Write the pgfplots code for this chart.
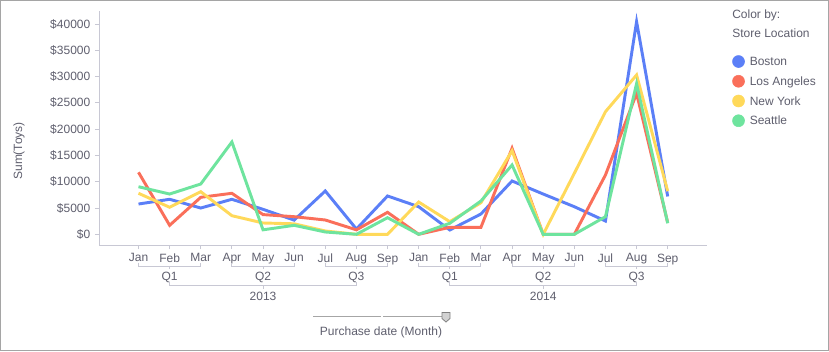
\documentclass[border=0pt]{standalone}
\usepackage{fontspec}
\setmainfont{Liberation Sans}
\usepackage{pgfplots}
\pgfplotsset{compat=1.18}
\definecolor{cBlue}{RGB}{91,127,247}
\definecolor{cRed}{RGB}{250,111,90}
\definecolor{cYel}{RGB}{255,217,90}
\definecolor{cGrn}{RGB}{110,228,158}
\definecolor{axisgray}{RGB}{200,200,212}
\definecolor{lbl}{RGB}{95,95,110}
\definecolor{framegray}{RGB}{165,165,165}
\definecolor{brk}{RGB}{200,200,212}
\newcommand{\fs}{\fontsize{9}{11}\selectfont}
\begin{document}
\begin{tikzpicture}
\begin{scope}[x=0.75pt,y=-0.75pt]
\useasboundingbox (0,0) rectangle (829,351);
\fill[white] (0,0) rectangle (829,351);
\end{scope}
\begin{axis}[
  at={(74.25pt,-8.25pt)}, anchor=north west,
  scale only axis, width=456pt, height=175.5pt,
  xmin=-1.269, xmax=18.262, ymin=-2035, ymax=42472,
  axis x line=bottom, axis y line=left,
  axis line style={-, draw=axisgray, line width=0.75pt},
  xtick={0,...,17},
  xticklabels={Jan,Feb,Mar,Apr,May,Jun,Jul,Aug,Sep,Jan,Feb,Mar,Apr,May,Jun,Jul,Aug,Sep},
  ytick={0,5000,...,40000},
  yticklabels={\$0,\$5000,\$10000,\$15000,\$20000,\$25000,\$30000,\$35000,\$40000},
  scaled y ticks=false,
  tick align=outside, major tick length=3pt,
  tick style={draw=axisgray, line width=0.75pt},
  ticklabel style={font=\fs, text=lbl},
  clip=false,
  every axis plot/.append style={line width=2.2pt, mark=none},
  legend image code/.code={\draw[#1, line width=0.4pt, fill] (4.5pt,3.2pt) circle (4.5pt);},
  legend cell align=left,
  legend style={at={(axis description cs:1.0411,0.812)}, anchor=north west,
    draw=none, fill=none, inner sep=0pt, row sep=4.65pt,
    font=\fs, text=lbl,
    nodes={inner sep=0pt, text height=6.75pt, text depth=2.25pt, anchor=base west},
    /tikz/every odd column/.style={column sep=3.75pt}},
]
\addplot[cBlue] coordinates {(0,5760)(1,6660)(2,5000)(3,6660)(4,4750)(5,2700)(6,8240)(7,1000)(8,7290)(9,5250)(10,820)(11,3860)(12,10140)(13,7660)(14,5250)(15,2530)(16,40440)(17,7200)};
\addlegendentry{Boston}
\addplot[cRed] coordinates {(0,11790)(1,1710)(2,7040)(3,7800)(4,3750)(5,3350)(6,2720)(7,850)(8,4180)(9,0)(10,1330)(11,1330)(12,16360)(13,0)(14,0)(15,11280)(16,26800)(17,2200)};
\addlegendentry{Los Angeles}
\addplot[cYel] coordinates {(0,7800)(1,5140)(2,8100)(3,3540)(4,2150)(5,2000)(6,630)(7,0)(8,0)(9,6140)(10,2400)(11,6010)(12,15900)(13,0)(14,11600)(15,23320)(16,30300)(17,8200)};
\addlegendentry{New York}
\addplot[cGrn] coordinates {(0,9050)(1,7660)(2,9570)(3,17560)(4,850)(5,1710)(6,440)(7,0)(8,3160)(9,0)(10,2100)(11,6330)(12,13180)(13,0)(14,0)(15,3350)(16,28650)(17,2100)};
\addlegendentry{Seattle}
\end{axis}
\begin{scope}[x=0.75pt,y=-0.75pt]
\draw[framegray, line width=0.75pt] (0.5,0.5) rectangle (828.5,350.5);
\foreach \k in {0,1} {
  \foreach \q in {0,1,2} {
    \pgfmathsetmacro\xa{138.5+31.13*(9*\k+3*\q)}
    \pgfmathsetmacro\xb{\xa+62.26}
    \pgfmathsetmacro\xm{\xa+31.13}
    \pgfmathtruncatemacro\qq{\q+1}
    \draw[brk, line width=0.75pt] (\xa,262.5) -- (\xa,266) -- (\xb,266) -- (\xb,262.5);
    \draw[brk, line width=0.75pt] (\xm,266) -- (\xm,269);
    \node[font=\fs, text=lbl] at (\xm,277) {Q\qq};
  }
}
\foreach \k/\yr in {0/2013,1/2014} {
  \pgfmathsetmacro\xa{138.5+31.13*(9*\k+1)}
  \pgfmathsetmacro\xb{138.5+31.13*(9*\k+7)}
  \pgfmathsetmacro\xm{138.5+31.13*(9*\k+4)}
  \draw[brk, line width=0.75pt] (\xa,281.5) -- (\xa,285.5) -- (\xb,285.5) -- (\xb,281.5);
  \draw[brk, line width=0.75pt] (\xm,285.5) -- (\xm,288.5);
  \node[font=\fs, text=lbl] at (\xm,296.5) {\yr};
}
\draw[gray!70, line width=0.75pt] (313,316.7) -- (380.7,316.7);
\draw[gray!70, line width=0.75pt] (383,316.7) -- (446,316.7);
\filldraw[fill=gray!35, draw=gray, line width=0.6pt] (442,312.5) -- (450,312.5) -- (450,318.5) -- (446,322) -- (442,318.5) -- cycle;
\node[font=\fs, text=lbl] at (381,332) {Purchase date (Month)};
\node[font=\fs, text=lbl, rotate=90] at (19,151) {Sum(Toys)};
\node[font=\fs, text=lbl, anchor=west, inner sep=0pt] at (732,15) {Color by:};
\node[font=\fs, text=lbl, anchor=west, inner sep=0pt] at (732,33) {Store Location};
\end{scope}
\end{tikzpicture}
\end{document}
